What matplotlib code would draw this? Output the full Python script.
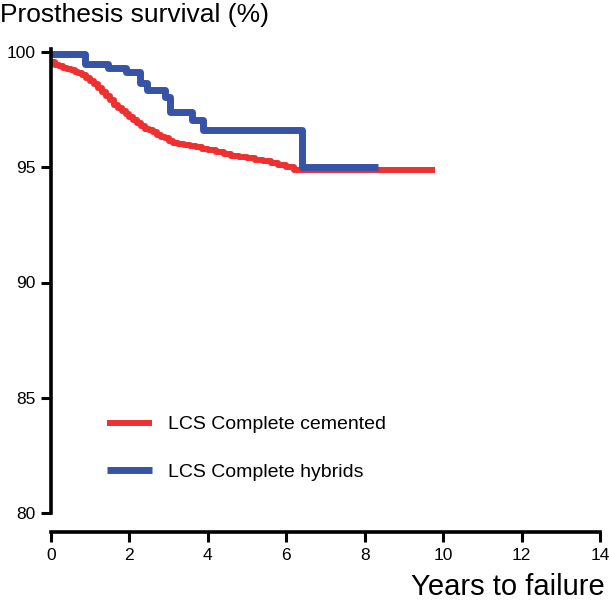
import matplotlib
matplotlib.use("Agg")
import matplotlib.pyplot as plt

plt.rcParams['font.family'] = ['Liberation Sans', 'DejaVu Sans']

# Kaplan-Meier style survival estimates
cem_years = [0, 0.1, 0.2, 0.3, 0.4, 0.5, 0.6, 0.7, 0.8, 0.9, 1.0, 1.1, 1.2, 1.3, 1.4,
             1.5, 1.6, 1.7, 1.8, 1.9, 2.0, 2.1, 2.2, 2.3, 2.4, 2.5, 2.6, 2.7, 2.8,
             2.9, 3.0, 3.1, 3.25, 3.4, 3.55, 3.7, 3.85, 4.0, 4.2, 4.4, 4.6, 4.8,
             5.0, 5.2, 5.4, 5.6, 5.8, 6.0, 6.2, 9.8]
cem_surv = [99.58, 99.45, 99.38, 99.3, 99.25, 99.2, 99.15, 99.08, 99.0, 98.88, 98.75,
            98.6, 98.45, 98.28, 98.1, 97.9, 97.72, 97.55, 97.45, 97.32, 97.2, 97.05,
            96.9, 96.78, 96.68, 96.6, 96.52, 96.42, 96.33, 96.25, 96.15, 96.07,
            96.02, 95.97, 95.92, 95.87, 95.8, 95.73, 95.65, 95.56, 95.5, 95.43,
            95.38, 95.32, 95.27, 95.2, 95.1, 95.02, 94.9, 94.9]

hyb_years = [0, 0.87, 1.45, 1.9, 2.27, 2.45, 2.9, 3.04, 3.6, 3.88, 6.4, 8.35]
hyb_surv = [99.9, 99.5, 99.3, 99.15, 98.65, 98.35, 98.05, 97.4, 97.05, 96.6, 95.0, 95.0]

x_ticks = [0, 2, 4, 6, 8, 10, 12, 14]
y_ticks = [80, 85, 90, 95, 100]

red = "#ee3030"
blue = "#3653a6"

fig = plt.figure(figsize=(6.1, 6.02), dpi=100)
ax = fig.add_axes([51 / 610, 89 / 602, 549 / 610, 461 / 602])

ax.plot(cem_years, cem_surv, drawstyle="steps-post", color=red, lw=4.3,
        label="LCS Complete cemented", clip_on=False, solid_capstyle="butt")
ax.plot(hyb_years, hyb_surv, drawstyle="steps-post", color=blue, lw=5.0,
        label="LCS Complete hybrids", clip_on=False, solid_capstyle="butt")

ax.set_xlim(0, 14)
ax.set_ylim(80, 100)
ax.set_xticks(x_ticks)
ax.set_yticks(y_ticks)

for s in ["top", "right"]:
    ax.spines[s].set_visible(False)
ax.spines["left"].set_linewidth(2.6)
ax.spines["bottom"].set_linewidth(2.6)
ax.spines["left"].set_bounds(80, 100.15)
ax.spines["bottom"].set_position(("outward", 13.7))
ax.tick_params(direction="out", length=7.2, width=2.2, labelsize=12.5, pad=4)

ax.legend(loc="upper left", bbox_to_anchor=(0.071, 0.249), frameon=False,
          fontsize=14, handlelength=2.3, handletextpad=0.82, labelspacing=1.55)

fig.text(0.0, 0.995, "Prosthesis survival (%)", fontsize=19, ha="left", va="top")
fig.text(0.992, 0.002, "Years to failure", fontsize=21, ha="right", va="bottom")

fig.savefig("out.png", dpi=100)
